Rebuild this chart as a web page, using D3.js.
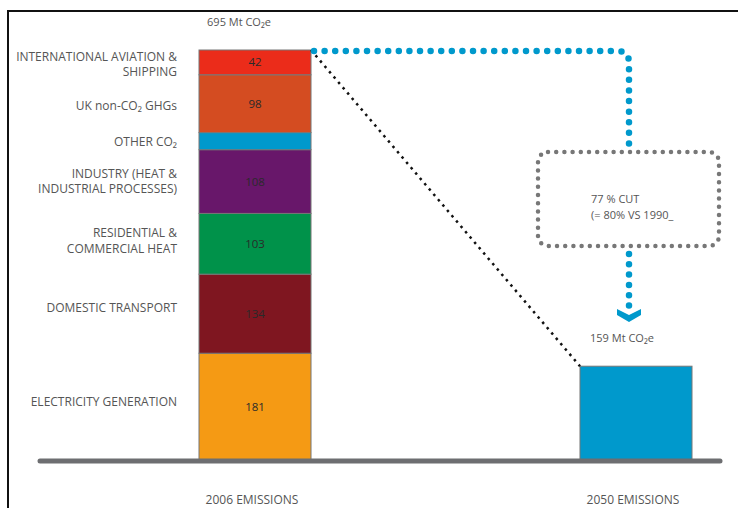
<!DOCTYPE html>
<html><head><meta charset="utf-8">
<script src="https://cdn.jsdelivr.net/npm/d3@7"></script>
<style>
html,body{margin:0;padding:0;background:#fff;}
svg text{font-family:"Open Sans","DejaVu Sans",sans-serif;}
</style></head>
<body>
<svg id="chart" width="738" height="508"></svg>
<script>
// ---- data ----
const periods = ["2006 EMISSIONS", "2050 EMISSIONS"];
const sectors = ["ELECTRICITY GENERATION", "DOMESTIC TRANSPORT", "RESIDENTIAL & COMMERCIAL HEAT",
  "INDUSTRY (HEAT & INDUSTRIAL PROCESSES)", "OTHER CO₂", "UK non-CO₂ GHGs", "INTERNATIONAL AVIATION & SHIPPING"];
const sectorLines = [["ELECTRICITY GENERATION"], ["DOMESTIC TRANSPORT"], ["RESIDENTIAL &", "COMMERCIAL HEAT"],
  ["INDUSTRY (HEAT &", "INDUSTRIAL PROCESSES)"], ["OTHER CO₂"], ["UK non-CO₂ GHGs"], ["INTERNATIONAL AVIATION &", "SHIPPING"]];
const values2006 = [181, 134, 103, 108, 29, 98, 42];
const showValue = [true, true, true, true, false, true, true];
const sectorColors = ["#F59A14", "#7F1620", "#00924A", "#68176A", "#0099CC", "#D44C21", "#EB2C1A"];
const total2006Label = "695 Mt CO₂e";
const value2050 = 159;
const total2050Label = "159 Mt CO₂e";
const cutLines = ["77 % CUT", "(= 80% VS 1990_"];

// ---- layout ----
const svg = d3.select("#chart");
const total2006 = d3.sum(values2006);
const y = d3.scaleLinear().domain([0, total2006]).range([460, 50]);
const x = d3.scaleBand().domain(periods).range([199, 692]).paddingInner(0.706).paddingOuter(0);
const bw = x.bandwidth();
const labelDy = [-5, -6, -3, 0, 1, 2, 2];

// frame
svg.append("path").attr("d", "M8,508 V11 H738").attr("fill", "none").attr("stroke", "#111").attr("stroke-width", 2);

// stacked 2006
let acc = 0;
const segs = values2006.map((v, i) => { const s = {i, v, y0: acc, y1: acc + v}; acc += v; return s; });
const x06 = x(periods[0]);
svg.append("g").selectAll("rect").data(segs).join("rect")
  .attr("x", x06).attr("width", bw)
  .attr("y", d => y(d.y1)).attr("height", d => y(d.y0) - y(d.y1))
  .attr("fill", d => sectorColors[d.i]).attr("stroke", "#777").attr("stroke-width", 1);

svg.append("g").selectAll("text").data(segs.filter(d => showValue[d.i])).join("text")
  .attr("x", x06 + bw / 2).attr("y", d => (y(d.y0) + y(d.y1)) / 2 + 4)
  .attr("text-anchor", "middle").attr("font-size", 11.5).attr("fill", "#2a2a2a")
  .text(d => d.v);

// sector labels
const lg = svg.append("g");
segs.forEach(d => {
  const lines = sectorLines[d.i];
  const mid = (y(d.y0) + y(d.y1)) / 2 + labelDy[d.i];
  lines.forEach((t, k) => {
    lg.append("text").attr("x", 177).attr("y", mid + 4 + (k - (lines.length - 1) / 2) * 15.5)
      .attr("text-anchor", "end").attr("font-size", 12).attr("fill", "#555").text(t);
  });
});

// 2050 bar
const x50 = x(periods[1]);
svg.append("rect").attr("x", x50).attr("width", bw).attr("y", y(value2050)).attr("height", y(0) - y(value2050))
  .attr("fill", "#0099CC").attr("stroke", "#777").attr("stroke-width", 1);

// baseline
svg.append("line").attr("x1", 40).attr("x2", 720).attr("y1", y(0) + 1).attr("y2", y(0) + 1)
  .attr("stroke", "#6D6E71").attr("stroke-width", 5).attr("stroke-linecap", "round");

// totals
svg.append("text").attr("x", x06 + bw / 2 - 16).attr("y", y(total2006) - 24).attr("text-anchor", "middle")
  .attr("font-size", 11).attr("fill", "#555").text(total2006Label);
svg.append("text").attr("x", x50 + 42).attr("y", y(value2050) - 24).attr("text-anchor", "middle")
  .attr("font-size", 11).attr("fill", "#555").text(total2050Label);

// period labels
svg.append("g").selectAll("text").data(periods).join("text")
  .attr("x", d => x(d) + bw / 2 - 3).attr("y", 504).attr("text-anchor", "middle")
  .attr("font-size", 12).attr("fill", "#555").text(d => d);

// black dotted connector
svg.append("line").attr("x1", x06 + bw).attr("y1", y(total2006)).attr("x2", x50).attr("y2", y(value2050))
  .attr("stroke", "#111").attr("stroke-width", 2.5).attr("stroke-dasharray", "2.5 4.5");

// blue dotted path
const vx = 629, boxTop = 152, boxBot = 246, boxL = 538, boxR = 719, r = 12;
svg.append("path")
  .attr("d", `M${x06 + bw + 3},${y(total2006) + 1} H${vx - r} Q${vx},${y(total2006) + 1} ${vx},${y(total2006) + 1 + r} V${boxTop}`)
  .attr("fill", "none").attr("stroke", "#0099CC").attr("stroke-width", 6.5)
  .attr("stroke-linecap", "round").attr("stroke-dasharray", "0 10.6");
svg.append("path").attr("d", `M${vx},${boxBot + 8} V${306}`)
  .attr("fill", "none").attr("stroke", "#0099CC").attr("stroke-width", 6.5)
  .attr("stroke-linecap", "round").attr("stroke-dasharray", "0 10.3");
// chevron
svg.append("path").attr("d", `M${vx - 12},309 L${vx},315 L${vx + 12},309 L${vx + 12},315 L${vx},322 L${vx - 12},315 Z`)
  .attr("fill", "#0099CC");

// gray dotted box
svg.append("rect").attr("x", boxL).attr("y", boxTop).attr("width", boxR - boxL).attr("height", boxBot - boxTop)
  .attr("rx", 10).attr("fill", "none").attr("stroke", "#777").attr("stroke-width", 4.5)
  .attr("stroke-linecap", "round").attr("stroke-dasharray", "0 8.2");
cutLines.forEach((t, k) => {
  svg.append("text").attr("x", 591).attr("y", 203 + k * 15.5).attr("font-size", 11).attr("fill", "#555").text(t);
});
</script>
</body></html>
